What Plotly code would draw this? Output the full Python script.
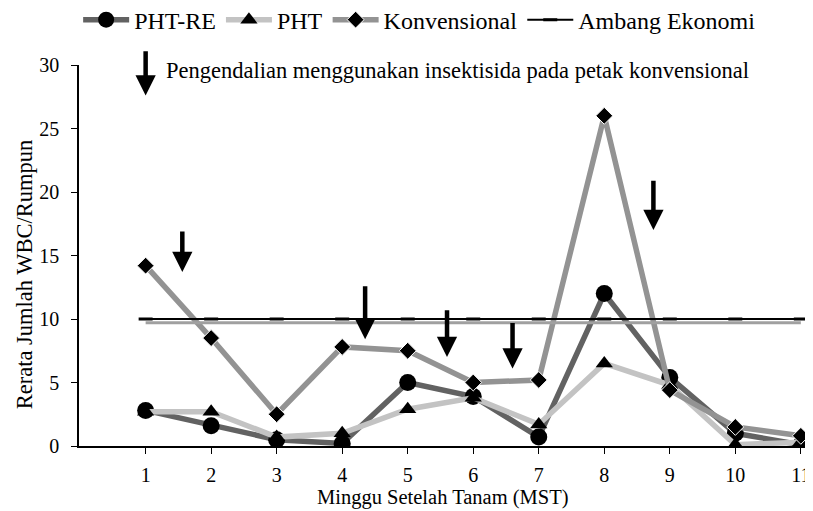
import plotly.graph_objects as go

weeks = [1, 2, 3, 4, 5, 6, 7, 8, 9, 10, 11]
pht_re = [2.8, 1.6, 0.5, 0.2, 5.0, 3.9, 0.7, 12.0, 5.4, 1.0, 0.1]
pht = [2.7, 2.7, 0.7, 1.0, 2.9, 3.8, 1.7, 6.5, 4.8, 0.1, 0.3]
konvensional = [14.2, 8.5, 2.5, 7.8, 7.5, 5.0, 5.2, 26.0, 4.4, 1.5, 0.8]
ambang = [10] * 11

# control (insecticide) events: x position, arrow top, arrow tip
arrow_x = [1.0, 1.56, 4.35, 5.6, 6.6, 8.75]
arrow_top = [31.2, 17.0, 12.7, 10.8, 9.8, 21.0]
arrow_tip = [27.6, 13.7, 8.4, 7.0, 6.1, 17.0]

FONT = "Liberation Serif"

fig = go.Figure()

fig.add_trace(go.Scatter(
    x=weeks, y=pht_re, name="PHT-RE", mode="lines+markers",
    line=dict(color="#626262", width=5.5),
    marker=dict(symbol="circle", size=17, color="black"),
))
fig.add_trace(go.Scatter(
    x=weeks, y=pht, name="PHT", mode="lines+markers",
    line=dict(color="#c3c3c3", width=5.5),
    marker=dict(symbol="triangle-up", size=15, color="black"),
))
fig.add_trace(go.Scatter(
    x=weeks, y=konvensional, name="Konvensional", mode="lines+markers",
    line=dict(color="#939393", width=5.5),
    marker=dict(symbol="diamond", size=13, color="black",
                line=dict(color="white", width=1)),
))
# Ambang Ekonomi (double line)
fig.add_trace(go.Scatter(
    x=weeks, y=[v - 0.3 for v in ambang], mode="lines", showlegend=False,
    line=dict(color="#a0a0a0", width=3), hoverinfo="skip",
))
fig.add_trace(go.Scatter(
    x=weeks + [11.3], y=ambang + [10], name="Ambang Ekonomi", mode="lines+markers",
    line=dict(color="black", width=2),
    marker=dict(symbol="line-ew", size=10, color="black",
                line=dict(color="black", width=3)),
))

for ax_, top, tip in zip(arrow_x, arrow_top, arrow_tip):
    fig.add_annotation(
        x=ax_, y=tip, ax=ax_, ay=top, xref="x", yref="y", axref="x", ayref="y",
        text="", showarrow=True, arrowhead=2, arrowsize=0.9, arrowwidth=4.5,
        arrowcolor="black",
    )

fig.add_annotation(
    x=1.28, y=29.6, xref="x", yref="y", xanchor="left", yanchor="middle",
    text="Pengendalian menggunakan insektisida pada petak konvensional",
    showarrow=False, font=dict(family=FONT, size=22.5, color="black"),
)
fig.add_annotation(
    x=0.498, y=-0.134, xref="paper", yref="paper", xanchor="center", yanchor="middle",
    text="Minggu Setelah Tanam (MST)", showarrow=False,
    font=dict(family=FONT, size=20.5, color="black"),
)
fig.add_annotation(
    x=-0.075, y=0.451, xref="paper", yref="paper", xanchor="center", yanchor="middle",
    text="Rerata Jumlah WBC/Rumpun", showarrow=False, textangle=-90,
    font=dict(family=FONT, size=22.5, color="black"),
)

# page body has an 8px margin: figure is placed at (8, 8)
fig.update_layout(
    width=805, height=503,
    margin=dict(l=71, r=3, t=57, b=65, autoexpand=False),
    paper_bgcolor="white", plot_bgcolor="white",
    font=dict(family=FONT, size=20, color="black"),
    showlegend=True,
    legend=dict(orientation="h", x=0.466, xanchor="center", y=1.118, yanchor="middle",
                font=dict(family=FONT, size=24), itemwidth=46,
                tracegroupgap=0, bgcolor="rgba(0,0,0,0)"),
    xaxis=dict(range=[-0.017, 11.14], tickmode="array", tickvals=weeks,
               ticks="outside", ticklen=6, tickcolor="black",
               ticklabelstandoff=4, ticklabeloverflow="allow",
               showline=True, linecolor="black", linewidth=1.5,
               showgrid=False, zeroline=False, automargin=False),
    yaxis=dict(range=[0, 30], tickvals=[0, 5, 10, 15, 20, 25, 30],
               ticks="outside", ticklen=6, tickcolor="black",
               ticklabelstandoff=8,
               showline=True, linecolor="black", linewidth=1.5,
               showgrid=False, zeroline=False, automargin=False),
)

fig.write_html("out.html")
